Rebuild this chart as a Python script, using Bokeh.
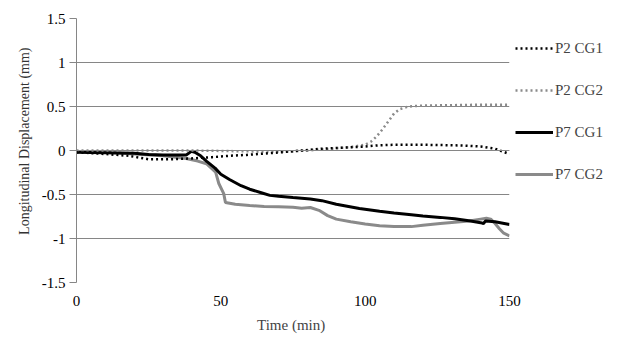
from bokeh.plotting import figure
from bokeh.models import Range1d, Span, Legend, LegendItem, Title, FixedTicker
from bokeh.embed import file_html
from bokeh.resources import INLINE

# ---- data ----
p2cg1_t = [0, 10, 18, 25, 32, 40, 47, 53, 59, 65, 71, 78, 85, 91, 100, 105, 110, 120, 130, 135, 140, 145, 150]
p2cg1_v = [-0.02, -0.04, -0.06, -0.10, -0.10, -0.09, -0.076, -0.06, -0.05, -0.035, -0.02, 0.0, 0.02, 0.03, 0.045, 0.06,
           0.065, 0.065, 0.06, 0.055, 0.045, 0.02, -0.04]

p2cg2_t = [0, 20, 40, 60, 75, 80, 88, 95, 100, 102, 104, 106, 108, 110, 112, 115, 120, 130, 140, 150]
p2cg2_v = [0.0, 0.0, 0.0, -0.01, -0.01, 0.0, 0.02, 0.04, 0.065, 0.1, 0.16, 0.24, 0.33, 0.42, 0.47, 0.50, 0.51, 0.515,
           0.52, 0.52]

p7cg1_t = [0, 10, 20, 25, 30, 38, 39.8, 41, 43, 45, 48, 50, 53, 57, 60, 64, 67, 70, 75, 81, 85, 90, 98, 105, 110, 116,
           120, 126, 131, 136.5, 140, 141, 141.7, 145, 150]
p7cg1_v = [-0.02, -0.025, -0.03, -0.045, -0.05, -0.05, -0.01, -0.02, -0.06, -0.12, -0.2, -0.27, -0.33, -0.40, -0.44,
           -0.48, -0.51, -0.52, -0.535, -0.55, -0.57, -0.61, -0.66, -0.69, -0.71, -0.73, -0.745, -0.76, -0.775, -0.80,
           -0.82, -0.83, -0.80, -0.81, -0.84]

p7cg2_t = [0, 10, 20, 30, 38, 42, 45, 48.2, 49.3, 51, 51.6, 55, 60, 65, 70, 75, 78, 81, 84, 87, 90, 95, 100, 105, 110,
           116, 120, 126, 131, 136, 140, 142, 143.5, 145, 146.5, 148, 150]
p7cg2_v = [-0.01, -0.02, -0.04, -0.06, -0.09, -0.12, -0.15, -0.245, -0.375, -0.49, -0.59, -0.61, -0.625, -0.635, -0.64,
           -0.645, -0.655, -0.648, -0.68, -0.74, -0.78, -0.81, -0.835, -0.855, -0.865, -0.865, -0.85, -0.83, -0.815,
           -0.80, -0.78, -0.77, -0.78, -0.83, -0.89, -0.94, -0.97]

series_names = ["P2 CG1", "P2 CG2", "P7 CG1", "P7 CG2"]
x_ticks = [0, 50, 100, 150]
y_ticks = [-1.5, -1, -0.5, 0, 0.5, 1, 1.5]
y_tick_labels = ["-1.5", "-1", "-0.5", "0", "0.5", "1", "1.5"]

FONT = "Liberation Serif"
GRAY = "#868686"
SERIES_GRAY = "#8a8a8a"

p = figure(frame_width=433, frame_height=264, output_backend="svg", toolbar_location=None,
           x_range=Range1d(0, 150), y_range=Range1d(-1.5, 1.5),
           min_border_left=76, min_border_right=10, min_border_top=18, min_border_bottom=59)
p.outline_line_color = None
p.background_fill_color = "white"
p.border_fill_color = "white"

# grid
p.xgrid.grid_line_color = None
p.ygrid.grid_line_color = GRAY
p.ygrid.grid_line_width = 1
p.ygrid.ticker = FixedTicker(ticks=y_ticks)

# x axis (labels low, line at y=0)
p.xaxis.ticker = FixedTicker(ticks=x_ticks)
p.xaxis.axis_line_color = None
p.xaxis.major_tick_line_color = None
p.xaxis.minor_tick_line_color = None
p.xaxis.major_label_standoff = 7
p.xaxis.major_label_text_font = FONT
p.xaxis.major_label_text_font_size = "15px"
p.xaxis.major_label_text_color = "black"
p.xaxis.axis_label = "Time  (min)"
p.xaxis.axis_label_text_font = FONT
p.xaxis.axis_label_text_font_style = "normal"
p.xaxis.axis_label_text_font_size = "15px"
p.xaxis.axis_label_standoff = 8
p.add_layout(Span(location=0, dimension="width", line_color=GRAY, line_width=1))

# y axis
p.yaxis.ticker = FixedTicker(ticks=y_ticks)
p.yaxis.major_label_overrides = {t: l for t, l in zip(y_ticks, y_tick_labels)}
p.yaxis.axis_line_color = GRAY
p.yaxis.major_tick_line_color = GRAY
p.yaxis.major_tick_out = 7
p.yaxis.major_tick_in = 0
p.yaxis.minor_tick_line_color = None
p.yaxis.major_label_standoff = 4
p.yaxis.major_label_text_font = FONT
p.yaxis.major_label_text_font_size = "15px"
p.yaxis.major_label_text_color = "black"

ytitle = Title(text="Longitudinal  Displacement  (mm)", align="right", offset=22,
               text_font=FONT, text_font_style="normal", text_font_size="14px",
               text_color="#333333", standoff=14)
p.add_layout(ytitle, "left")

r4 = p.line(p7cg2_t, p7cg2_v, line_color=SERIES_GRAY, line_width=3)
r3 = p.line(p7cg1_t, p7cg1_v, line_color="black", line_width=3)
r2 = p.line(p2cg2_t, p2cg2_v, line_color=SERIES_GRAY, line_width=2.5, line_dash="2 3")
r1 = p.line(p2cg1_t, p2cg1_v, line_color="black", line_width=2.5, line_dash="2 3")

legend = Legend(items=[LegendItem(label=series_names[0], renderers=[r1]),
                       LegendItem(label=series_names[1], renderers=[r2]),
                       LegendItem(label=series_names[2], renderers=[r3]),
                       LegendItem(label=series_names[3], renderers=[r4])],
                location=(6, 98), glyph_width=38, glyph_height=20, spacing=22,
                label_standoff=2, padding=0, margin=0,
                label_text_font=FONT, label_text_font_size="15px",
                border_line_color=None, background_fill_alpha=0)
p.add_layout(legend, "right")

open("out.html", "w").write(file_html(p, INLINE))
